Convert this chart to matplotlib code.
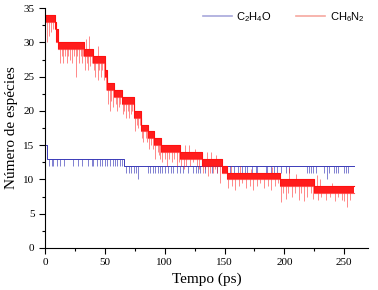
import numpy as np
import matplotlib.pyplot as plt
from matplotlib.lines import Line2D
from matplotlib.ticker import MultipleLocator

# CH6N2: segments where the count flickers between lo and hi
red_edges = [0, 8, 9.5, 11, 33, 40, 50, 52, 58, 64, 74, 80, 86, 91, 97, 113,
             131, 148, 152, 196, 225, 258]
red_lo = [33, 32, 30, 29, 28, 27, 25, 23, 22, 21, 19, 17, 16, 15, 14, 13,
          12, 11, 10, 9, 8]
red_hi = [34, 33, 32, 30, 29, 28, 26, 24, 23, 22, 20, 18, 17, 16, 15, 14,
          13, 12, 11, 10, 9]

# CH6N2 spikes (time, value)
red_spk_t = [1.5, 3, 5, 6.5,
             12.5, 14, 15, 17, 18.4, 19.2, 21, 22.6, 24, 25.9, 27, 28.4, 30, 30.9, 32,
             34, 37, 44,
             33.5, 35, 36, 38, 39,
             41, 42, 44.5, 45, 47, 48, 49,
             51, 53, 54.5, 55.5, 57, 59, 60.5, 62, 63,
             65, 66, 67.5, 69, 70.5, 72, 73,
             75, 76.5, 78, 79, 81, 82, 84, 85, 87, 88.5, 90,
             92, 94, 95, 96, 98, 100, 102, 104, 106, 108, 110, 112,
             114, 116, 118, 121, 124, 127, 129, 117, 120, 125,
             132, 134, 136, 138, 140, 142, 144, 146, 135, 139, 143,
             153, 156, 159, 162, 165, 168, 171, 174, 177, 180, 183, 186, 189, 192, 195,
             155, 163, 172, 190,
             197, 199, 201, 203, 206, 209, 212, 214, 216, 219, 222, 224, 204, 210,
             228, 231, 235, 238, 242, 245, 248, 250, 252, 255, 227, 230, 240]
red_spk_v = [30, 31, 31.5, 32,
             27, 28, 27, 28, 27, 28, 27.5, 27, 28, 25, 28, 27, 28, 27, 28,
             30.5, 31, 29.5,
             26, 27, 26, 26.5, 27,
             26, 25, 24.5, 26, 25, 26, 24.5,
             23, 21, 20, 21.5, 20.5, 21, 20, 20.5, 21,
             19.5, 20, 19, 20, 19, 19.5, 20,
             17, 18, 17.5, 18, 16, 15.5, 16, 15.5, 14.5, 15, 14.5,
             13, 14, 13.5, 13, 12.5, 13, 12, 13, 12.5, 13, 12, 12.5,
             12, 11.5, 12, 12, 12.5, 12, 11.5, 15, 15, 14.5,
             11, 11.5, 10.5, 11, 11, 11.5, 11, 9.5, 14, 14, 13.5,
             8.8, 9, 8.5, 9, 9.5, 8.8, 9, 8.5, 9, 9.5, 8.8, 9, 8.5, 9, 9.5,
             12, 12, 11.5, 11.8,
             6.7, 8, 7.2, 8, 7.5, 8, 7, 8, 6.8, 7.5, 8, 7.2, 11.6, 10.8,
             7, 7.5, 7, 7.5, 6.8, 7.5, 7, 6.8, 6.0, 7, 10.6, 10, 9.5]

# C2H4O: base level and downward blips
blue_t = [0, 1.5, 66, 258]
blue_v = [15, 13, 12, 12]
blue_dip12_t = [3.5, 5.6, 7, 9.8, 12.5, 15.9, 23.7, 27.9, 30.7,
                36.2, 39, 40.4, 43.2, 46, 47.4, 50.2, 51.6, 54.3,
                57.1, 58.5, 59.9, 62.7, 64.1]
blue_dip11_t = [68, 70, 72, 74, 76, 86, 88, 90, 92, 94, 96, 98, 100, 103, 105,
                107, 110, 112.9, 115.6, 119.8, 124, 126.2, 128.2, 129.6, 133.8,
                139.3, 143.5, 154.7, 157.5, 161.6, 164.4, 167.2, 168.6, 173.3,
                176.1, 177.5, 184.4, 185.8, 188.6, 191.4, 194.2, 197, 201.2, 204,
                219.3, 220.7, 222.1, 223.5, 226.3, 233.3, 237.4, 241.6, 243,
                244.4, 250, 251.4, 252.8]
blue_dip10_t = [78, 235.2]

fig = plt.figure(figsize=(3.78, 2.90), dpi=100)
ax = fig.add_axes([0.119, 0.145, 0.855, 0.827])

blue = '#3a3ab8'
red = '#ff1010'

# C2H4O
ax.step(blue_t, blue_v, where='post', color=blue, lw=0.7)
for dips, lvl in [(blue_dip12_t, 12), (blue_dip11_t, 11), (blue_dip10_t, 10)]:
    base = np.interp(dips, [0, 66, 66.001, 258], [13, 13, 12, 12])
    ax.vlines(dips, lvl, base, color=blue, lw=0.6, alpha=0.75)

# CH6N2
lo_ext = red_lo + [red_lo[-1]]
hi_ext = red_hi + [red_hi[-1]]
ax.fill_between(red_edges, lo_ext, hi_ext, step='post', color=red, lw=0, alpha=0.95)
ax.step(red_edges, hi_ext, where='post', color=red, lw=0.8)
ax.step(red_edges, lo_ext, where='post', color=red, lw=0.8, alpha=0.7)
seg = np.clip(np.searchsorted(red_edges, red_spk_t, side='right') - 1, 0, len(red_lo) - 1)
lo = np.array(red_lo)[seg]
hi = np.array(red_hi)[seg]
v = np.array(red_spk_v)
start = np.where(v < lo, lo, hi)
ax.vlines(red_spk_t, v, start, color=red, lw=0.7, alpha=0.5)

ax.set_xlim(0, 270)
ax.set_ylim(0, 35)
ax.xaxis.set_major_locator(MultipleLocator(50))
ax.xaxis.set_minor_locator(MultipleLocator(25))
ax.yaxis.set_major_locator(MultipleLocator(5))
ax.yaxis.set_minor_locator(MultipleLocator(2.5))
for s in ['top', 'right']:
    ax.spines[s].set_visible(False)
ax.tick_params(which='major', direction='out', length=4, width=0.8,
               labelsize=8, labelfontfamily='Liberation Serif')
ax.tick_params(which='minor', direction='out', length=2, width=0.8)

ax.set_xlabel('Tempo (ps)', family='Liberation Serif', fontsize=11)
ax.set_ylabel('Número de espécies', family='Liberation Serif', fontsize=11)

handles = [Line2D([], [], color='#a8a8dc', lw=1.2),
           Line2D([], [], color='#f6a8a0', lw=1.2)]
ax.legend(handles, [r'$\mathregular{C_2H_4O}$', r'$\mathregular{CH_6N_2}$'],
          loc='upper right', bbox_to_anchor=(1.02, 1.035), ncol=2, frameon=False,
          prop={'family': 'Liberation Sans', 'size': 8},
          handlelength=2.6, handletextpad=0.4, columnspacing=2.2)

fig.savefig('out.png', dpi=100)
